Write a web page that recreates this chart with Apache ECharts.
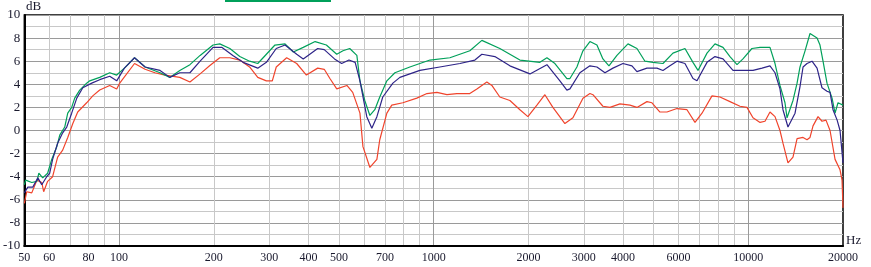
<!DOCTYPE html>
<html><head><meta charset="utf-8">
<script src="https://cdn.jsdelivr.net/npm/echarts@6/dist/echarts.min.js"></script>
<style>html,body{margin:0;padding:0;background:#fff}#c{width:871px;height:267px}</style>
</head><body><div id="c"></div>
<script>
const xLabelValues = [50,60,80,100,200,300,400,500,700,1000,2000,3000,4000,6000,10000,20000];
const xMinorGridValues = [60,70,80,90,200,300,400,500,600,700,800,900,2000,3000,4000,5000,6000,7000,8000,9000];
const xMajorGridValues = [100,1000,10000];

const greenFreq = [50,50.5,52.8,54.8,55.6,57.2,59.3,61.1,63.4,64.8,67.2,68.7,70.7,72.3,75,78.9,80.7,86.8,93.4,98.3,104,112,121,135,145,156,168,181,199,209,225,242,260,276,294,313,337,358,385,420,456,492,515,541,570,583,604,627,650,674,710,753,840,973,1126,1303,1423,1623,1880,2176,2291,2429,2651,2711,2853,2916,2982,3138,3303,3451,3607,3824,4145,4427,4694,4977,5356,5762,6291,6671,6921,7392,7837,8310,8746,9207,9618,10270,10900,11720,12160,12610,13080,13280,13870,14290,14600,15150,15710,15940,16540,16900,17280,17790,18460,18870,19280,20000];
const greenDb = [-4.7,-4.3,-4.5,-4.4,-3.7,-4.1,-3.7,-2.5,-1.4,-0.4,0.3,1.5,2.0,2.8,3.5,4.1,4.3,4.6,5.0,4.8,5.4,6.3,5.5,5.0,4.6,5.2,5.7,6.5,7.4,7.5,7.1,6.4,6.0,5.8,6.6,7.4,7.5,6.8,7.2,7.7,7.4,6.6,6.9,7.1,6.5,4.3,2.6,1.3,1.8,2.9,4.3,5.0,5.5,6.1,6.3,6.9,7.8,7.1,6.1,5.9,6.3,5.8,4.5,4.5,5.5,6.2,6.9,7.7,7.4,6.2,5.6,6.5,7.5,7.1,6.0,5.9,5.8,6.7,7.1,5.9,5.2,6.7,7.5,7.2,6.4,5.7,6.2,7.1,7.2,7.2,5.8,3.9,2.4,1.1,2.6,4.1,5.5,6.9,8.4,8.4,8.0,7.4,6.0,4.1,2.8,1.5,2.4,2.2];

const blueFreq = [50,51.3,53.2,55.2,56.8,58.9,60.2,61.5,63.8,66.2,68.2,70.7,73.4,76.7,81.9,86.8,93.4,98.3,104,112,121,135,145,156,168,181,199,212,230,248,276,294,316,337,367,385,428,449,484,510,538,563,583,613,636,660,689,742,781,904,1046,1212,1352,1423,1565,1747,2023,2291,2519,2651,2711,2916,3138,3303,3503,3714,3996,4268,4427,4763,5125,5356,5636,5933,6291,6671,6870,7392,7837,8310,8941,9618,10350,11060,11720,12160,12610,12890,13370,14080,14600,14930,15370,15940,16540,17150,17790,18190,18590,19160,19570,20000];
const blueDb = [-5.4,-4.9,-4.9,-4.1,-4.7,-4.0,-3.7,-2.5,-1.1,-0.2,0.3,1.5,2.8,3.7,4.1,4.4,4.7,4.3,5.4,6.3,5.5,5.2,4.6,5.0,5.0,6.0,7.2,7.2,6.5,5.9,5.4,5.9,7.1,7.4,6.6,6.2,7.1,7.0,6.2,5.8,6.1,5.9,4.3,1.2,0.2,1.2,2.9,4.1,4.6,5.2,5.5,5.8,6.1,6.6,6.4,5.6,4.9,5.7,4.3,3.5,3.6,5.0,5.6,5.5,5.0,5.4,5.8,5.6,5.1,5.4,5.4,5.2,5.6,6.0,5.8,4.5,4.3,5.9,6.4,6.2,5.2,5.2,5.2,5.4,5.6,5.0,3.6,1.8,0.3,1.5,3.8,5.5,5.8,6.0,5.4,3.7,3.4,3.3,1.8,0.9,0.0,-2.8];

const redFreq = [50,50.9,52.8,54.8,56.8,57.6,59.3,61.5,63.8,66.2,68.7,71.3,73.9,78.9,82.5,86.8,93.4,98.3,100.5,112,121,130,140,156,168,181,194,209,225,242,260,276,294,307,316,341,367,394,428,449,468,492,530,553,583,596,627,660,674,710,736,798,884,952,1024,1102,1185,1303,1372,1476,1531,1623,1747,1880,1993,2129,2257,2393,2613,2771,2982,3138,3208,3451,3634,3909,4206,4427,4763,4941,5239,5515,5933,6384,6770,7126,7667,8128,8746,9411,9905,10350,10900,11300,11720,12160,12610,12890,13370,13870,14290,14930,15370,15710,16060,16660,17150,17660,18190,18870,19570,19860,20000];
const redDb = [-6.3,-5.3,-5.4,-4.3,-4.5,-5.3,-4.4,-4.0,-2.3,-1.7,-0.6,0.6,1.6,2.4,3.0,3.5,3.9,3.6,4.1,5.8,5.3,5.0,4.8,4.6,4.2,4.9,5.6,6.3,6.3,6.1,5.5,4.6,4.3,4.3,5.5,6.3,5.8,4.8,5.4,5.3,4.5,3.6,3.9,3.3,1.5,-1.4,-3.2,-2.5,-0.8,1.5,2.2,2.4,2.8,3.2,3.3,3.1,3.2,3.2,3.6,4.2,3.9,2.9,2.6,1.8,1.2,2.2,3.1,2.0,0.6,1.1,2.8,3.2,3.1,2.1,2.0,2.3,2.2,2.0,2.5,2.4,1.6,1.6,1.9,1.8,0.7,1.5,3.0,2.9,2.5,2.1,2.0,1.1,0.7,0.8,1.6,1.2,0.0,-1.1,-2.8,-2.3,-0.7,-0.6,-0.8,-0.6,0.4,1.2,0.8,0.9,0.0,-2.5,-3.4,-4.3,-6.7];

const zip = (f, d) => f.map((v, i) => [v, d[i]]);

const chart = echarts.init(document.getElementById('c'), null, {renderer: 'canvas'});
const labelColor = '#1a1a2e';
chart.setOption({
  animation: false,
  backgroundColor: '#ffffff',
  grid: {left: 24, right: 28, top: 15, bottom: 21, show: true, borderColor: '#000', borderWidth: 1.5, backgroundColor: 'transparent'},
  xAxis: [
    {type: 'log', logBase: 10, min: 50, max: 20000,
     axisLine: {show: true, onZero: false, lineStyle: {color: '#000', width: 2}},
     axisTick: {show: false, customValues: xMinorGridValues},
     splitLine: {show: true, lineStyle: {color: '#c8c8c8', width: 1}},
     axisLabel: {customValues: xLabelValues, margin: 6, formatter: v => String(Math.round(v)),
                 fontFamily: 'Liberation Serif', fontSize: 12, color: labelColor}},
    {type: 'log', logBase: 10, min: 50, max: 20000, position: 'bottom',
     axisLine: {show: false, onZero: false}, axisTick: {show: false, customValues: xMajorGridValues},
     axisLabel: {show: false},
     splitLine: {show: true, lineStyle: {color: '#9a9a9a', width: 1}}}
  ],
  yAxis: {type: 'value', min: -10, max: 10, interval: 2,
    axisLine: {show: true, onZero: false, lineStyle: {color: '#000', width: 2}},
    axisTick: {show: false},
    minorTick: {show: false, splitNumber: 2},
    minorSplitLine: {show: true, lineStyle: {color: '#c8c8c8', width: 1}},
    splitLine: {show: true, lineStyle: {color: '#9a9a9a', width: 1}},
    axisLabel: {margin: 4, fontFamily: 'Liberation Serif', fontSize: 13, color: labelColor}},
  graphic: [
    {type: 'text', left: 26, top: 0, style: {text: 'dB', font: '13px "Liberation Serif"', fill: labelColor}},
    {type: 'text', left: 846, top: 234, style: {text: 'Hz', font: '13px "Liberation Serif"', fill: labelColor}},
    {type: 'rect', shape: {x: 225, y: 0, width: 106, height: 2}, style: {fill: '#00a05a'}}
  ],
  series: [
    {name: 'red', type: 'line', data: zip(redFreq, redDb), showSymbol: false, lineStyle: {color: '#f0442c', width: 1.2}, z: 3},
    {name: 'green', type: 'line', data: zip(greenFreq, greenDb), showSymbol: false, lineStyle: {color: '#00a05a', width: 1.2}, z: 4},
    {name: 'blue', type: 'line', data: zip(blueFreq, blueDb), showSymbol: false, lineStyle: {color: '#2e2488', width: 1.2}, z: 5}
  ]
});
</script></body></html>
